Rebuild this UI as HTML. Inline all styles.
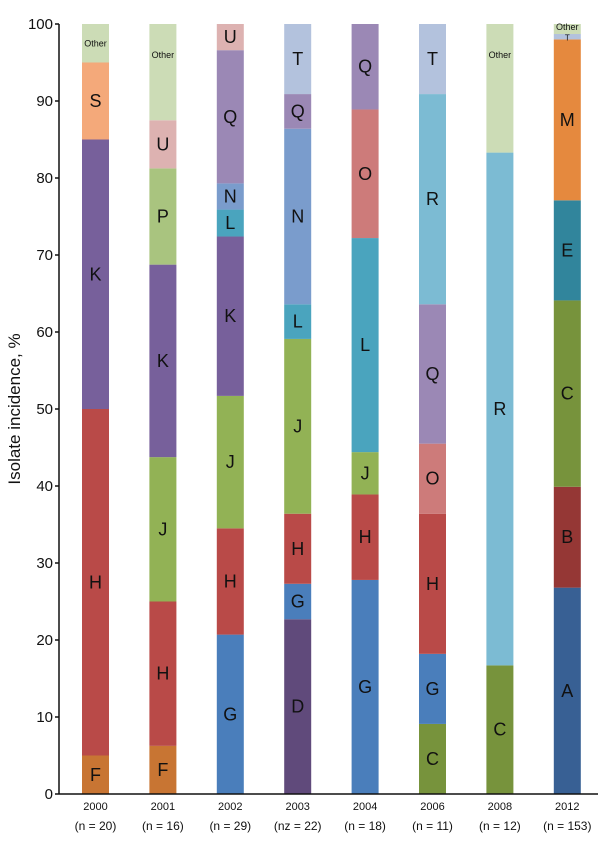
<!DOCTYPE html>
<html><head><meta charset="utf-8"><style>
body{margin:0;background:#fff;}
svg{display:block;font-family:"Liberation Sans",sans-serif;}
</style></head><body>
<svg id="chart" width="600" height="841"></svg>
<script>
const years=["2000","2001","2002","2003","2004","2006","2008","2012"];
const nLabels=["(n  =  20)","(n = 16)","(n = 29)","(nz = 22)","(n = 18)","(n = 11)","(n = 12)","(n = 153)"];
const segLabels=[
["F","H","K","S","Other"],
["F","H","J","K","P","U","Other"],
["G","H","J","K","L","N","Q","U"],
["D","G","H","J","L","N","Q","T"],
["G","H","J","L","O","Q"],
["C","G","H","O","Q","R","T"],
["C","R","Other"],
["A","B","C","E","M","T","Other"]];
const segValues=[
[5,45,35,10,5],
[6.25,18.75,18.75,25,12.5,6.25,12.5],
[20.7,13.8,17.2,20.7,3.5,3.4,17.3,3.4],
[22.7,4.6,9.1,22.7,4.5,22.8,4.5,9.1],
[27.8,11.1,5.5,27.8,16.7,11.1],
[9.1,9.1,18.2,9.1,18.1,27.3,9.1],
[16.7,66.6,16.7],
[26.8,13.1,24.2,13,20.9,0.7,1.3]];
const colors={F:"#c87533",H:"#b94a48",K:"#77609b",S:"#f4a97a",Other:"#ccdcb6",J:"#92b255",P:"#a9c47f",U:"#ddb2b1",G:"#4a7ebb",L:"#4aa4be",N:"#7a9ccc",Q:"#9b88b5",T:"#b3c2dd",D:"#604a7b",O:"#cd7b7a",R:"#7cbbd3",C:"#77933c",A:"#386094",B:"#953735",E:"#31859c",M:"#e5893e"};
const yTicks=[0,10,20,30,40,50,60,70,80,90,100];
const svg=document.getElementById('chart');
const NS="http://www.w3.org/2000/svg";
const x0=59,y0=794,y100=24,barW=27,firstX=82,step=67.4;
const yS=v=>y0-(v/100)*(y0-y100);
const xS=i=>firstX+i*step;
function mk(t,a){const e=document.createElementNS(NS,t);for(const k in a)e.setAttribute(k,a[k]);svg.appendChild(e);return e;}
years.forEach((yr,i)=>{
  let cum=0;
  segValues[i].forEach((v,j)=>{
    const lab=segLabels[i][j];
    const r=mk('rect',{x:xS(i),y:yS(cum+v),width:barW,height:yS(cum)-yS(cum+v),fill:colors[lab]});
    
    
    const small=lab==="Other"||(i===7&&lab==="T");
    const t=mk('text',{x:xS(i)+barW/2,y:yS(cum+v/2)+(small?3:6),'text-anchor':'middle','font-size':small?9:18,fill:'#111'});
    if(i===7&&lab==="T"){t.setAttribute('y',yS(cum+v/2)+4);t.setAttribute('font-size',8);}
    if(i===7&&lab==="Other"){t.setAttribute('y',yS(100)+6);}
    if(lab==="Other"&&i===0){t.setAttribute('y',yS(97.5)+3);}
    if(lab==="Other"&&(i===1||i===6)){t.setAttribute('y',yS(96)+3);}
    t.textContent=lab;
    
    
    cum+=v;
  });
  const a=mk('text',{x:xS(i)+barW/2,y:810,'text-anchor':'middle','font-size':11,fill:'#111'});
  a.textContent=yr;
  
  
  const b=mk('text',{x:xS(i)+barW/2,y:830,'text-anchor':'middle','font-size':12,fill:'#111'});
  b.textContent=nLabels[i];
  
  
});
const ya=mk('line',{x1:x0,y1:y100,x2:x0,y2:y0,stroke:'#111','stroke-width':1.5});


const xa=mk('line',{x1:x0,y1:y0,x2:598,y2:y0,stroke:'#111','stroke-width':1.5});


yTicks.forEach(v=>{
  const tk=mk('line',{x1:x0-4,y1:yS(v),x2:x0,y2:yS(v),stroke:'#111','stroke-width':1.5});
  
  
  const t=mk('text',{x:x0-6,y:yS(v)+5,'text-anchor':'end','font-size':15,fill:'#111'});
  t.textContent=v;
  
  
});
const yt=mk('text',{x:0,y:0,transform:'translate(20,409) rotate(-90)','text-anchor':'middle','font-size':17,fill:'#111'});
yt.textContent="Isolate incidence, %";


</script>
</body></html>
